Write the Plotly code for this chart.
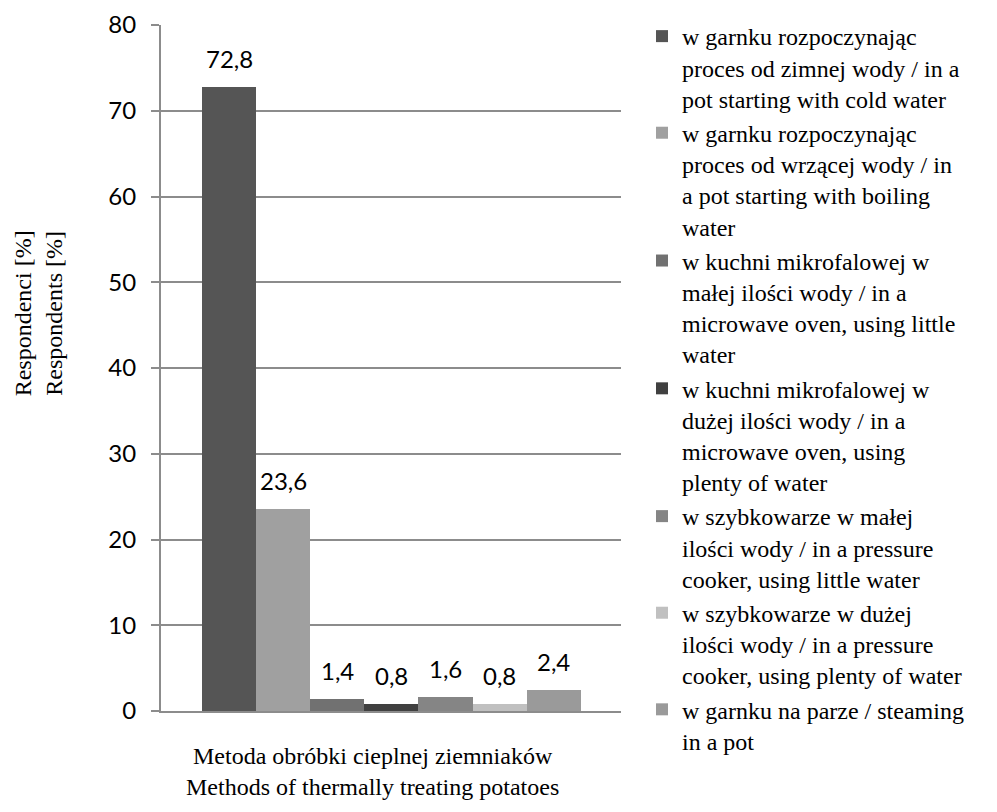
import plotly.graph_objects as go

categories = [
    "w garnku rozpoczynając<br>proces od zimnej wody / in a<br>pot starting with cold water",
    "w garnku rozpoczynając<br>proces od wrzącej wody / in<br>a pot starting with boiling<br>water",
    "w kuchni mikrofalowej w<br>małej ilości wody / in a<br>microwave oven, using little<br>water",
    "w kuchni mikrofalowej w<br>dużej ilości wody / in a<br>microwave oven, using<br>plenty of water",
    "w szybkowarze w małej<br>ilości wody / in a pressure<br>cooker, using little water",
    "w szybkowarze w dużej<br>ilości wody / in a pressure<br>cooker, using plenty of water",
    "w garnku na parze / steaming<br>in a pot",
]
values = [72.8, 23.6, 1.4, 0.8, 1.6, 0.8, 2.4]
value_labels = ["72,8", "23,6", "1,4", "0,8", "1,6", "0,8", "2,4"]
colors = ["#555555", "#a0a0a0", "#717171", "#404040", "#858585", "#c0c0c0", "#9a9a9a"]
y_ticks = [0, 10, 20, 30, 40, 50, 60, 70, 80]

SERIF = "Liberation Serif, Times New Roman, serif"
SANS = "Lato, Carlito, Calibri, sans-serif"

fig = go.Figure()
for i, (name, v, c) in enumerate(zip(categories, values, colors)):
    fig.add_trace(go.Bar(
        x=[i], y=[v], name=name, width=1,
        marker=dict(color=c, line=dict(width=0)),
        legendgroup=f"g{i}",
        hoverinfo="skip",
    ))
    fig.add_annotation(
        x=i, y=v, text=value_labels[i], showarrow=False,
        yanchor="bottom", yshift=12,
        font=dict(family=SANS, size=24, color="#000000"),
    )

fig.add_annotation(
    xref="paper", yref="paper", x=-0.267, y=0.58,
    text="Respondenci [%]<br>Respondents [%]", textangle=-90,
    showarrow=False, xanchor="center", yanchor="middle",
    font=dict(family=SERIF, size=24, color="#000000"),
)
fig.add_annotation(
    xref="paper", yref="paper", x=0.46, y=-0.132,
    text="Metoda obróbki cieplnej ziemniaków<br>Methods of thermally treating potatoes",
    showarrow=False, xanchor="center", yanchor="bottom",
    font=dict(family=SERIF, size=24, color="#000000"),
)

fig.update_layout(
    width=981, height=796,
    margin=dict(l=153, r=368, t=17, b=93, autoexpand=False),
    paper_bgcolor="#ffffff", plot_bgcolor="#ffffff",
    barmode="overlay", bargap=0,
    showlegend=True,
    legend=dict(
        x=1.0457, y=1.016, xanchor="left", yanchor="top",
        font=dict(family=SERIF, size=24, color="#000000"),
        valign="top", tracegroupgap=8, traceorder="normal",
        bgcolor="rgba(0,0,0,0)", maxheight=790,
    ),
    xaxis=dict(
        range=[-1.257, 7.242], showticklabels=False, ticks="",
        showgrid=False, zeroline=False,
        showline=True, linecolor="#8c8c8c", linewidth=2,
        fixedrange=True,
    ),
    yaxis=dict(
        range=[0, 80], tickvals=y_ticks, ticktext=[str(t) for t in y_ticks],
        showgrid=True, gridcolor="#8c8c8c", gridwidth=2,
        zeroline=False,
        showline=True, linecolor="#8c8c8c", linewidth=2,
        ticks="outside", ticklen=8, tickcolor="#8c8c8c", tickwidth=2,
        ticklabelstandoff=10,
        tickfont=dict(family=SANS, size=24, color="#000000"),
        fixedrange=True,
    ),
)

fig.write_html("out.html")
